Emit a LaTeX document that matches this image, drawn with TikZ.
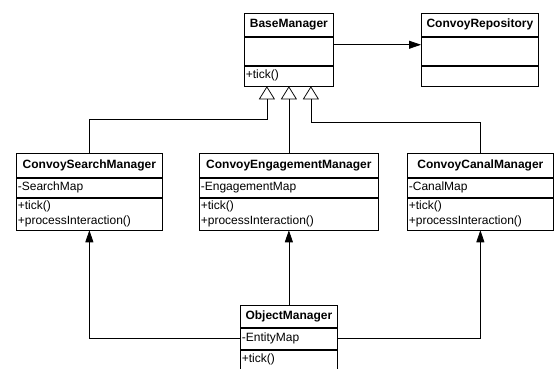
\documentclass[tikz,border=0pt]{standalone}
\usepackage{fontspec}
\setmainfont{Liberation Sans}
\usetikzlibrary{positioning, arrows.meta, calc}

\begin{document}
\begin{tikzpicture}[x=1pt, y=1pt,
  every node/.style={font=\fontsize{12}{15}\selectfont},
  head/.style={draw, line width=.75pt, inner xsep=0pt, inner ysep=0pt, align=center, anchor=north west, font=\fontsize{12}{15}\selectfont\bfseries},
  part/.style={draw, line width=.75pt, inner xsep=1.5pt, inner ysep=0pt, align=left},
  gen/.style={line width=.75pt, -{Triangle[open, length=13pt, width=16pt]}},
  assoc/.style={line width=.75pt, -{Triangle[length=12pt, width=8pt]}}]
  \useasboundingbox (0,0) rectangle (554,-368);
%
  \node[head, text width=89pt, minimum height=23pt] (BM) at (244,-13) {BaseManager};
  \node[part, below=0pt of BM, text width=86pt, minimum height=28pt] (BMa) {};
  \node[part, below=0pt of BMa, text width=86pt, minimum height=20pt] (BMm) {+tick()};
%
  \node[head, text width=117pt, minimum height=23pt] (CR) at (421,-13) {ConvoyRepository};
  \node[part, below=0pt of CR, text width=114pt, minimum height=28pt] (CRa) {};
  \node[part, below=0pt of CRa, text width=114pt, minimum height=20pt] (CRm) {};
%
  \node[head, text width=146pt, minimum height=24pt] (CSM) at (16,-153) {ConvoySearchManager};
  \node[part, below=0pt of CSM, text width=143pt, minimum height=19pt] (CSMa) {-SearchMap};
  \node[part, below=0pt of CSMa, text width=143pt, minimum height=32pt] (CSMm) {+tick()\\+processInteraction()};
%
  \node[head, text width=179pt, minimum height=24pt] (CEM) at (199,-153) {ConvoyEngagementManager};
  \node[part, below=0pt of CEM, text width=176pt, minimum height=19pt] (CEMa) {-EngagementMap};
  \node[part, below=0pt of CEMa, text width=176pt, minimum height=32pt] (CEMm) {+tick()\\+processInteraction()};
%
  \node[head, text width=146pt, minimum height=24pt] (CCM) at (407,-153) {ConvoyCanalManager};
  \node[part, below=0pt of CCM, text width=143pt, minimum height=19pt] (CCMa) {-CanalMap};
  \node[part, below=0pt of CCMa, text width=143pt, minimum height=32pt] (CCMm) {+tick()\\+processInteraction()};
%
  \node[head, text width=97pt, minimum height=22pt] (OM) at (240,-305) {ObjectManager};
  \node[part, below=0pt of OM, text width=94pt, minimum height=21pt] (OMa) {-EntityMap};
  \node[part, below=0pt of OMa, text width=94pt, minimum height=19pt] (OMm) {+tick()};
%
  \coordinate (g1) at ($(BMm.south)+(-22pt,0)$);
  \coordinate (g3) at ($(BMm.south)+(22pt,0)$);
  \coordinate (k1) at ($(g1)+(0,-33pt)$);
  \coordinate (k3) at ($(g3)+(0,-36pt)$);
  \draw[gen] (CSM.north) |- (k1) -- (g1);
  \draw[gen] (CEM.north) -- (CEM.north |- BMm.south);
  \draw[gen] (CCM.north) |- (k3) -- (g3);
%
  \draw[assoc] ([yshift=-8pt]BMa.north east) -- ([yshift=-8pt]CRa.north west);
  \draw[assoc] (OMa.west) -| (CSMm.south);
  \draw[assoc] (OM.north) -- (CEMm.south);
  \draw[assoc] (OMa.east) -| (CCMm.south);
\end{tikzpicture}
\end{document}
